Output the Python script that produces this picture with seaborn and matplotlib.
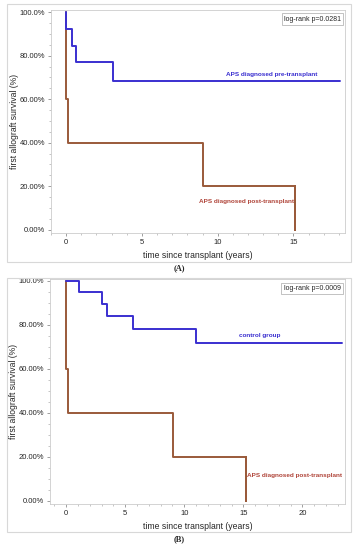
import matplotlib
matplotlib.use("Agg")
import matplotlib.pyplot as plt
import seaborn as sns
import pandas as pd
from matplotlib.patches import Rectangle
from matplotlib.ticker import MultipleLocator

# Panel A: Kaplan-Meier steps (time in years, survival in %)
a_pre_time = [0.0, 0.02, 0.4, 0.68, 3.07, 18.1]
a_pre_surv = [100.0, 92.3, 84.6, 76.9, 68.4, 68.4]
a_post_time = [0.0, 0.02, 0.15, 9.0, 15.1, 15.1]
a_post_surv = [100.0, 60.0, 40.0, 20.0, 20.0, 0.0]

# Panel B
b_ctrl_time = [0.0, 1.1, 3.05, 3.5, 5.65, 10.96, 23.36]
b_ctrl_surv = [100.0, 95.1, 89.4, 84.0, 78.3, 71.8, 71.8]
b_post_time = [0.0, 0.02, 0.14, 9.04, 15.2, 15.2]
b_post_surv = [100.0, 60.0, 40.0, 20.0, 20.0, 0.0]

y_ticks = [0, 20, 40, 60, 80, 100]
y_tick_labels = ["0.00%", "20.00%", "40.00%", "60.00%", "80.00%", "100.0%"]

BLUE = "#3a2fd0"
BROWN = "#9a5a3a"
RED_TXT = "#b0453a"

sns.set_style("white")
plt.rcParams["font.family"] = ["Liberation Sans", "DejaVu Sans"]

fig = plt.figure(figsize=(3.57, 5.5), dpi=100)

# outer panel frames
for y0, h in [(1 - 262 / 550, 258 / 550), (1 - 532 / 550, 254 / 550)]:
    fig.patches.append(Rectangle((7 / 357, y0), 344 / 357, h, transform=fig.transFigure,
                                 fill=False, edgecolor="#d8d8d8", linewidth=0.8))

axA = fig.add_axes([51 / 357, 1 - 233 / 550, 294 / 357, 223 / 550])
axB = fig.add_axes([50 / 357, 1 - 504 / 550, 295 / 357, 225 / 550])


def km(ax, t, s, color):
    df = pd.DataFrame({"t": t, "s": s})
    sns.lineplot(data=df, x="t", y="s", ax=ax, color=color, linewidth=1.4,
                 drawstyle="steps-post", estimator=None)


def style(ax, xlim, ylim, xticks):
    ax.set_xlim(*xlim)
    ax.set_ylim(*ylim)
    ax.set_xticks(xticks)
    ax.set_yticks(y_ticks)
    ax.set_yticklabels(y_tick_labels)
    ax.yaxis.set_minor_locator(MultipleLocator(5))
    ax.xaxis.set_minor_locator(MultipleLocator(1))
    ax.tick_params(axis="both", which="major", labelsize=5.5, length=2, width=0.5,
                   color="#777777", pad=2, direction="out", left=True, bottom=True)
    ax.tick_params(axis="both", which="minor", length=1.2, width=0.4, color="#999999",
                   left=True, bottom=True)
    for sp in ax.spines.values():
        sp.set_color("#cccccc")
        sp.set_linewidth(0.6)
    ax.set_xlabel("time since transplant (years)", fontsize=6.2, labelpad=4)
    ax.set_ylabel("first allograft survival (%)", fontsize=6.2, labelpad=1)


km(axA, a_post_time, a_post_surv, BROWN)
km(axA, a_pre_time, a_pre_surv, BLUE)
style(axA, (-1.0, 18.4), (-1.5, 101.0), [0, 5, 10, 15])
axA.text(13.55, 71.5, "APS diagnosed pre-transplant", color=BLUE, fontsize=4.6,
         fontweight="bold", ha="center", va="center")
axA.text(11.9, 12.8, "APS diagnosed post-transplant", color=RED_TXT, fontsize=4.6,
         fontweight="bold", ha="center", va="center")
axA.text(0.985, 0.975, "log-rank p=0.0281", transform=axA.transAxes, fontsize=5,
         ha="right", va="top",
         bbox=dict(boxstyle="square,pad=0.3", fc="white", ec="#aaaaaa", lw=0.5))

km(axB, b_post_time, b_post_surv, BROWN)
km(axB, b_ctrl_time, b_ctrl_surv, BLUE)
style(axB, (-1.36, 23.6), (-1.4, 100.9), [0, 5, 10, 15, 20])
axB.text(16.4, 75.3, "control group", color=BLUE, fontsize=4.6,
         fontweight="bold", ha="center", va="center")
axB.text(15.35, 11.5, "APS diagnosed post-transplant", color=RED_TXT, fontsize=4.6,
         fontweight="bold", ha="left", va="center")
axB.text(0.985, 0.975, "log-rank p=0.0009", transform=axB.transAxes, fontsize=5,
         ha="right", va="top",
         bbox=dict(boxstyle="square,pad=0.3", fc="white", ec="#aaaaaa", lw=0.5))

fig.text(179 / 357, 1 - 268 / 550, "(A)", fontsize=6, fontweight="bold",
         family="Liberation Serif", ha="center", va="center")
fig.text(179 / 357, 1 - 539 / 550, "(B)", fontsize=6, fontweight="bold",
         family="Liberation Serif", ha="center", va="center")

fig.savefig("out.png", dpi=100)
